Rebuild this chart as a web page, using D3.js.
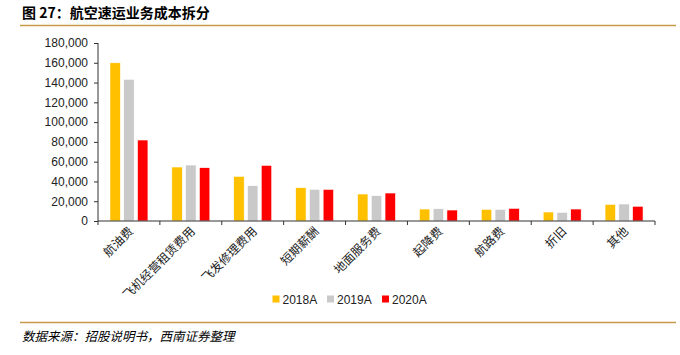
<!DOCTYPE html>
<html><head><meta charset="utf-8">
<script src="https://cdn.jsdelivr.net/npm/d3@7"></script>
<style>body{margin:0;background:#fff}svg{display:block}</style>
</head><body>
<svg id="c" width="680" height="355"></svg>
<script>
const categories = ["航油费","飞机经营租赁费用","飞发修理费用","短期薪酬","地面服务费","起降费","航路费","折旧","其他"];
const seriesNames = ["2018A","2019A","2020A"];
const v2018 = [160000,54600,45200,33700,27300,12100,11800,9100,16900];
const v2019 = [143300,56600,35700,32000,25600,12400,11800,8800,17200];
const v2020 = [81900,53900,56300,32000,28300,11100,12800,12100,14900];
const yTicks = [0,20000,40000,60000,80000,100000,120000,140000,160000,180000];
const colors = ["#FFC000","#C9C9C9","#FF0000"];
const seriesValues = [v2018,v2019,v2020];

const svg = d3.select("#c");
const cjk = "'Noto Sans CJK SC', sans-serif";
const lat = "'Liberation Sans', Arial, sans-serif";

// title
svg.append("text").attr("x",22).attr("y",18).attr("font-family",cjk).attr("font-weight","bold")
  .attr("font-size",14).attr("fill","#000").text("图 27：航空速运业务成本拆分");
svg.append("line").attr("x1",20).attr("x2",676).attr("y1",25.5).attr("y2",25.5)
  .attr("stroke","#C99A4B").attr("stroke-width",1.5);

const x = d3.scaleBand().domain(categories).range([98,655]).paddingInner(0).paddingOuter(0);
const y = d3.scaleLinear().domain([0,180000]).range([221,43]);
const xs = d3.scaleBand().domain(seriesNames).range([0,38]).paddingInner(0.24);
const off = (x.bandwidth()-38)/2;

// bars
seriesNames.forEach((s,si)=>{
  svg.append("g").selectAll("rect").data(categories).join("rect")
    .attr("x",d=>x(d)+off+xs(s))
    .attr("y",(d,i)=>y(seriesValues[si][i]))
    .attr("width",xs.bandwidth())
    .attr("height",(d,i)=>y(0)-y(seriesValues[si][i]))
    .attr("fill",colors[si]).attr("stroke","#fff").attr("stroke-width",0.6);
});

// y axis
const yAxis = d3.axisLeft(y).tickValues(yTicks).tickSize(4).tickPadding(6).tickFormat(d3.format(","));
const gy = svg.append("g").attr("transform","translate(98,0)").call(yAxis);
gy.select(".domain").attr("stroke","#333").attr("d","M0,43V221");
gy.selectAll(".tick line").attr("stroke","#333");
gy.selectAll("text").attr("font-family",lat).attr("font-size",12).attr("fill","#222");

// x axis
const gx = svg.append("g").attr("transform","translate(0,221)");
gx.append("line").attr("x1",98).attr("x2",655).attr("stroke","#333");
const bounds = categories.map(c=>x(c)).concat([x(categories[categories.length-1])+x.bandwidth()]);
gx.selectAll("line.t").data(bounds).join("line").attr("class","t")
  .attr("x1",d=>d).attr("x2",d=>d).attr("y1",0).attr("y2",4).attr("stroke","#333");
gx.selectAll("text").data(categories).join("text")
  .attr("transform",d=>`translate(${x(d)+x.bandwidth()/2+5},${11}) rotate(-45)`)
  .attr("text-anchor","end").attr("font-family",cjk).attr("font-size",12).attr("fill","#222")
  .text(d=>d);

// legend
const leg = svg.append("g");
const lx = [272.5,327,382];
seriesNames.forEach((s,i)=>{
  leg.append("rect").attr("x",lx[i]).attr("y",295.5).attr("width",7).attr("height",7).attr("fill",colors[i]);
  leg.append("text").attr("x",lx[i]+10).attr("y",304).attr("font-family",lat).attr("font-size",12)
    .attr("fill","#222").text(s);
});

// footer
svg.append("line").attr("x1",20).attr("x2",676).attr("y1",322.5).attr("y2",322.5)
  .attr("stroke","#C99A4B").attr("stroke-width",1.5);
svg.append("text").attr("x",22).attr("y",341).attr("font-family",cjk).attr("font-style","italic")
  .attr("font-size",12.5).attr("fill","#000").text("数据来源：招股说明书，西南证券整理");
</script>
</body></html>
